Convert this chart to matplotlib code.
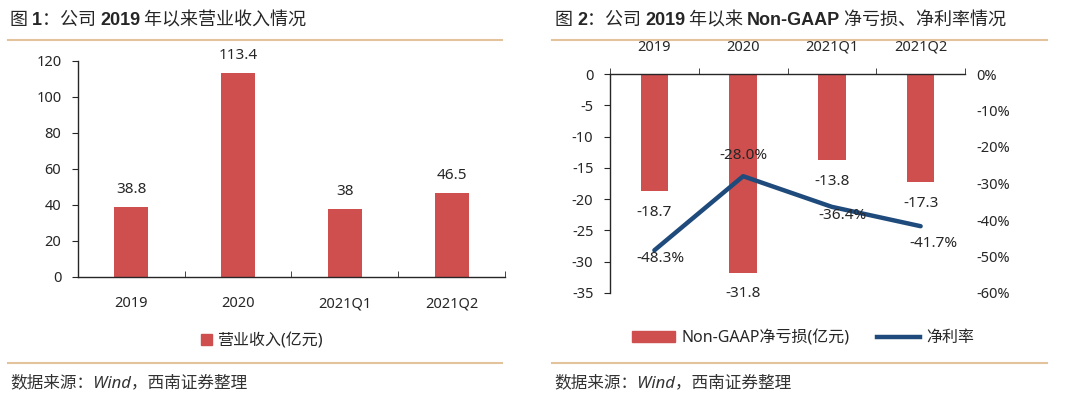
import matplotlib
matplotlib.use("Agg")
import matplotlib.pyplot as plt
from matplotlib.lines import Line2D
from matplotlib.patches import Patch
from matplotlib.offsetbox import TextArea, HPacker, AnnotationBbox
from matplotlib.ticker import FuncFormatter, FixedLocator

plt.rcParams['font.family'] = ['Noto Sans', 'Noto Sans CJK SC', 'DejaVu Sans']
plt.rcParams['axes.unicode_minus'] = False

# ---- data ----
categories = ["2019", "2020", "2021Q1", "2021Q2"]
revenue = [38.8, 113.4, 38.0, 46.5]
revenue_labels = ["38.8", "113.4", "38", "46.5"]
nongaap_loss = [-18.7, -31.8, -13.8, -17.3]
net_margin = [-48.3, -28.0, -36.4, -41.7]

BAR = "#CF4F4E"
LINE = "#1F4A7C"
TXT = "#262626"
SEP = "#E3C39C"
FS = 10.5

W, H = 1080, 398
fig = plt.figure(figsize=(W / 100, H / 100), dpi=100)

def fx(px):
    return px / W

def fy(py):
    return 1 - py / H

# ---- left chart ----
ax1 = fig.add_axes([fx(78), fy(277), fx(505) - fx(78), fy(61) - fy(277)])
x = list(range(len(categories)))
ax1.bar(x, revenue, width=0.32, color=BAR, zorder=2)
ax1.set_xlim(-0.5, 3.5)
ax1.set_ylim(0, 120)
ax1.set_yticks(range(0, 121, 20))
ax1.set_xticks(x)
ax1.set_xticklabels(categories)
ax1.xaxis.set_minor_locator(FixedLocator([-0.5, 0.5, 1.5, 2.5, 3.5]))
ax1.tick_params(axis='x', which='major', length=0, pad=14, labelsize=FS, labelcolor=TXT)
ax1.tick_params(axis='x', which='minor', length=4, direction='in', color=TXT)
ax1.tick_params(axis='y', length=4, direction='out', pad=8, labelsize=FS, labelcolor=TXT, color=TXT)
for s in ['top', 'right']:
    ax1.spines[s].set_visible(False)
for s in ['left', 'bottom']:
    ax1.spines[s].set_color(TXT)
    ax1.spines[s].set_linewidth(1.0)
for xi, v, lab in zip(x, revenue, revenue_labels):
    ax1.annotate(lab, (xi, v), xytext=(0, 10), textcoords='offset pixels',
                 ha='center', va='bottom', fontsize=11, color=TXT)
leg1 = ax1.legend(handles=[Patch(color=BAR, label="营业收入(亿元)")],
                  loc='center', bbox_to_anchor=(fx(262), fy(341)),
                  bbox_transform=fig.transFigure, frameon=False,
                  handlelength=0.7, handleheight=0.7, handletextpad=0.3,
                  fontsize=11.5)
for t in leg1.get_texts():
    t.set_color(TXT)

# ---- right chart ----
ax2 = fig.add_axes([fx(610), fy(293), fx(965) - fx(610), fy(74) - fy(293)])
ax2.bar(x, nongaap_loss, width=0.31, color=BAR, zorder=2)
ax2.set_xlim(-0.5, 3.5)
ax2.set_ylim(-35, 0)
ax2.set_yticks(range(-35, 1, 5))
ax2.xaxis.tick_top()
ax2.set_xticks(x)
ax2.set_xticklabels(categories)
ax2.xaxis.set_minor_locator(FixedLocator([-0.5, 0.5, 1.5, 2.5, 3.5]))
ax2.tick_params(axis='x', which='major', length=0, pad=14, labelsize=FS, labelcolor=TXT)
ax2.tick_params(axis='x', which='minor', length=4, direction='out', color=TXT, top=True, bottom=False)
ax2.tick_params(axis='y', length=4, direction='out', pad=8, labelsize=FS, labelcolor=TXT, color=TXT)
for s in ['bottom', 'right']:
    ax2.spines[s].set_visible(False)
for s in ['left', 'top']:
    ax2.spines[s].set_color(TXT)
    ax2.spines[s].set_linewidth(1.0)
for xi, v in zip(x, nongaap_loss):
    ax2.annotate(f"{v:.1f}", (xi, v), xytext=(0, -21), textcoords='offset pixels',
                 ha='center', va='center', fontsize=11, color=TXT)

ax3 = ax2.twinx()
ax3.plot(x, net_margin, color=LINE, lw=3.2, solid_capstyle='round', zorder=3)
ax3.set_ylim(-60, 0)
ax3.set_yticks(range(-60, 1, 10))
ax3.yaxis.set_major_formatter(FuncFormatter(lambda v, p: f"{int(round(v))}%"))
ax3.tick_params(axis='y', length=0, pad=8, labelsize=FS, labelcolor=TXT)
for s in ['top', 'bottom', 'left', 'right']:
    ax3.spines[s].set_visible(False)
margin_offsets = [(6, -8), (0, 21), (11, -9), (13, -17)]
for xi, v, off in zip(x, net_margin, margin_offsets):
    ax3.annotate(f"{v:.1f}%", (xi, v), xytext=off, textcoords='offset pixels',
                 ha='center', va='center', fontsize=11, color=TXT)

leg2 = ax2.legend(handles=[Patch(color=BAR, label="Non-GAAP净亏损(亿元)"),
                           Line2D([], [], color=LINE, lw=3.2, label="净利率")],
                  loc='center', bbox_to_anchor=(fx(803), fy(338)),
                  bbox_transform=fig.transFigure, frameon=False, ncol=2,
                  handlelength=2.7, handleheight=0.6, handletextpad=0.4,
                  columnspacing=1.7, fontsize=11.5)
for t in leg2.get_texts():
    t.set_color(TXT)

# ---- titles, separators, sources ----
def title(parts, x0, y0):
    children = []
    for txt, bold in parts:
        if bold:
            props = dict(fontsize=13, color=TXT, fontweight='bold',
                         family=['Liberation Sans', 'Noto Sans CJK SC'])
        else:
            props = dict(fontsize=13, color=TXT, fontweight='normal',
                         family=['Noto Sans CJK SC', 'DejaVu Sans'])
        children.append(TextArea(txt, textprops=props))
    pack = HPacker(children=children, sep=0, pad=0, align='baseline')
    ab = AnnotationBbox(pack, (fx(x0), fy(y0)), xycoords='figure fraction',
                        box_alignment=(0, 0.5), frameon=False, pad=0)
    fig.add_artist(ab)

title([("图 ", False), ("1", True), ("：公司 ", False), ("2019", True),
       (" 年以来营业收入情况", False)], 10, 20)
title([("图 ", False), ("2", True), ("：公司 ", False), ("2019", True),
       (" 年以来 ", False), ("Non-GAAP", True), (" 净亏损、净利率情况", False)], 555, 20)

for x0, x1 in [(8, 502), (552, 1047)]:
    for yy in [40, 363]:
        fig.add_artist(Line2D([fx(x0), fx(x1)], [fy(yy), fy(yy)], color=SEP, lw=1.5))

for x0 in [10, 554]:
    fig.text(fx(x0), fy(383), "数据来源：Wind，西南证券整理", fontsize=12, color="#333333",
             ha='left', va='center', style='italic')

fig.savefig("out.png", dpi=100)
